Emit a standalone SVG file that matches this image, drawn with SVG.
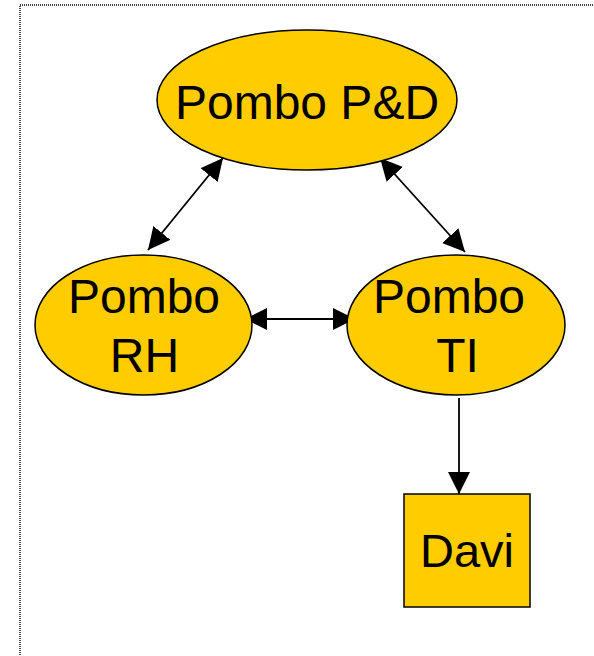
<svg xmlns="http://www.w3.org/2000/svg" width="594" height="656" viewBox="0 0 594 656">
<style>
.node{fill:#FFCC00;stroke:#000;stroke-width:1.5}
.lbl{font-family:"Liberation Sans",Arial,sans-serif;font-size:48px;fill:#000;text-anchor:middle}
.edge{stroke:#000;stroke-width:1.8;fill:none}
</style>
<defs>
<marker id="ah" markerUnits="userSpaceOnUse" markerWidth="22" markerHeight="22" refX="20" refY="10" orient="auto-start-reverse" viewBox="0 0 20 20">
<path d="M0,0 L20,10 L0,20 z" fill="#000"/>
</marker>
</defs>
<rect x="20" y="5" width="620" height="700" fill="none" stroke="#000" stroke-width="1.4" stroke-dasharray="1 1"/>
<g id="connectors">
<line class="edge" x1="223" y1="158" x2="148" y2="250" marker-start="url(#ah)" marker-end="url(#ah)"/>
<line class="edge" x1="380" y1="158" x2="465" y2="252" marker-start="url(#ah)" marker-end="url(#ah)"/>
<line class="edge" x1="245" y1="319" x2="355" y2="319" marker-start="url(#ah)" marker-end="url(#ah)"/>
<line class="edge" x1="459" y1="398" x2="459" y2="494" marker-end="url(#ah)"/>
</g>
<g id="pombo-pd">
<ellipse class="node" cx="307" cy="100" rx="150" ry="70"/>
<text class="lbl" x="307" y="119">Pombo P&amp;D</text>
</g>
<g id="pombo-rh">
<ellipse class="node" cx="143.5" cy="325" rx="108.5" ry="70"/>
<text class="lbl" x="144" y="313">Pombo</text>
<text class="lbl" x="144.5" y="372">RH</text>
</g>
<g id="pombo-ti">
<ellipse class="node" cx="456" cy="325" rx="109" ry="70"/>
<text class="lbl" x="449" y="313">Pombo</text>
<text class="lbl" x="457.5" y="372">TI</text>
</g>
<g id="davi">
<rect class="node" x="404" y="494" width="126" height="113" stroke-width="2"/>
<text class="lbl" x="467" y="567" style="font-size:47px">Davi</text>
</g>
</svg>
